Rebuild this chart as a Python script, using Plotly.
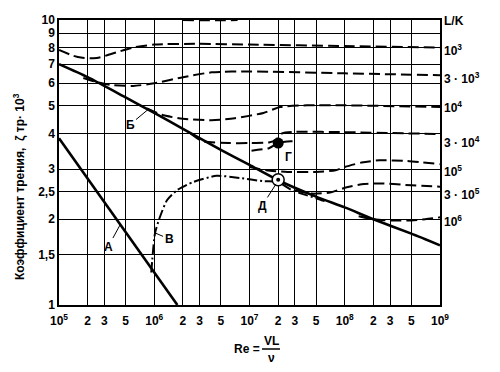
import numpy as np
import plotly.graph_objects as go

# ---------------- data ----------------
# A : laminar friction line
re_A = [1e5, 1.75e6]
cf_A = [3.85, 1.0]

# Б : smooth turbulent plate
re_B = [1e5, 2e5, 5e5, 1e6, 2e6, 5e6, 1e7, 2e7, 5e7, 1e8, 2e8, 5e8, 1e9]
cf_B = [7.0, 6.3, 5.35, 4.72, 4.15, 3.5, 3.1, 2.74, 2.4, 2.2, 2.0, 1.78, 1.62]

# В : transition curve
re_V = [9.3e5, 1.02e6, 1.15e6, 1.36e6, 1.74e6, 2.56e6, 4.5e6, 7.9e6, 1.38e7, 2e7, 2.66e7, 3.5e7, 5e7, 6.5e7]
cf_V = [1.3, 1.79, 2.04, 2.33, 2.53, 2.70, 2.84, 2.79, 2.72, 2.70, 2.55, 2.46, 2.37, 2.3]

# rough-plate curves, L/K
re_1e3 = [1e5, 1.4e5, 1.7e5, 2.5e5, 4e5, 6e5, 1e6, 3e6, 1e7, 1e8, 1e9]
cf_1e3 = [7.85, 7.5, 7.38, 7.35, 7.7, 8.0, 8.2, 8.25, 8.2, 8.1, 8.0]

re_3e3 = [1.8e5, 2.5e5, 3.5e5, 6e5, 1e6, 2e6, 4e6, 1e7, 1e8, 1e9]
cf_3e3 = [6.26, 6.05, 5.92, 5.87, 6.0, 6.3, 6.55, 6.6, 6.5, 6.4]

re_1e4 = [8.4e5, 1.2e6, 2e6, 4e6, 7e6, 1.4e7, 2.1e7, 4e7, 1e8, 1e9]
cf_1e4 = [4.9, 4.65, 4.5, 4.45, 4.52, 4.72, 4.95, 5.02, 5.02, 4.95]

re_3e4 = [2.4e6, 3.2e6, 6e6, 1e7, 1.6e7, 1.9e7, 2.2e7, 3e7, 1e8, 1e9]
cf_3e4 = [4.0, 3.76, 3.7, 3.7, 3.72, 3.8, 4.0, 4.05, 4.04, 3.98]

re_G = [1.05e7, 1.6e7, 2e7, 2.5e7, 3.2e7]
cf_G = [3.48, 3.55, 3.7, 3.75, 3.75]

re_1e5 = [1e7, 1.5e7, 2.5e7, 5e7, 8e7, 1e8, 1.5e8, 2.3e8, 4.5e8, 1e9]
cf_1e5 = [3.05, 2.97, 2.93, 2.93, 2.97, 3.05, 3.16, 3.22, 3.2, 3.12]

re_3e5 = [3e7, 4.5e7, 7e7, 1.05e8, 1.6e8, 2.5e8, 5e8, 1e9]
cf_3e5 = [2.52, 2.46, 2.48, 2.59, 2.66, 2.67, 2.63, 2.6]

re_1e6 = [1.4e8, 2e8, 3e8, 5e8, 7e8, 1e9]
cf_1e6 = [2.05, 2.0, 1.98, 1.98, 2.0, 2.03]

re_top = [2e6, 3e6, 5e6, 7.5e6]
cf_top = [10.0, 9.98, 9.97, 10.0]

# points Г and Д
re_pt = [2e7]
cf_G_pt = [3.7]
cf_D_pt = [2.75]

# tick labels
x_tickvals = []
x_ticktext = []
for e in range(5, 10):
    for m, t in ((1, f"10<sup>{e}</sup>"), (2, "2"), (3, "3"), (5, "5")):
        if e == 9 and m > 1:
            continue
        x_tickvals.append(m * 10 ** e)
        x_ticktext.append(t)
y_tickvals = [1, 1.5, 2, 2.5, 3, 4, 5, 6, 7, 8, 9, 10]
y_ticktext = ["1", "1,5", "2", "2,5", "3", "4", "5", "6", "7", "8", "9", "10"]

right_labels = ["L/K", "10<sup>3</sup>", "3 · 10<sup>3</sup>", "10<sup>4</sup>", "3 · 10<sup>4</sup>",
                "10<sup>5</sup>", "3 · 10<sup>5</sup>", "10<sup>6</sup>"]
right_label_y = [9.95, 7.85, 6.25, 4.95, 3.73, 2.95, 2.45, 1.97]

# ---------------- figure ----------------
FONT = "Liberation Sans, Arial, sans-serif"
fig = go.Figure()
dash_rough = "11px,5px"

def add_line(x, y, width, dash="solid"):
    fig.add_trace(go.Scatter(x=x, y=y, mode="lines", line=dict(color="black", width=width, dash=dash,
                                                               shape="spline", smoothing=0.6),
                             showlegend=False, hoverinfo="skip"))

add_line(re_A, cf_A, 2.6)
add_line(re_B, cf_B, 2.6)
add_line(re_V, cf_V, 2.0, "10px,3px,2px,3px")
for xs, ys in ((re_1e3, cf_1e3), (re_3e3, cf_3e3), (re_1e4, cf_1e4), (re_3e4, cf_3e4),
               (re_G, cf_G), (re_1e5, cf_1e5), (re_3e5, cf_3e5), (re_1e6, cf_1e6), (re_top, cf_top)):
    add_line(xs, ys, 2.0, dash_rough)

fig.add_trace(go.Scatter(x=re_pt, y=cf_G_pt, mode="markers",
                         marker=dict(color="black", size=11), showlegend=False, hoverinfo="skip"))
fig.add_trace(go.Scatter(x=re_pt, y=cf_D_pt, mode="markers",
                         marker=dict(color="white", size=12, line=dict(color="black", width=1.5)),
                         showlegend=False, hoverinfo="skip"))
fig.add_trace(go.Scatter(x=re_pt, y=cf_D_pt, mode="markers",
                         marker=dict(color="black", size=4), showlegend=False, hoverinfo="skip"))

axis_common = dict(type="log", showgrid=True, gridcolor="black", gridwidth=1.2,
                   showline=True, linecolor="black", linewidth=1.5, mirror=True,
                   ticks="", zeroline=False,
                   tickfont=dict(family=FONT, size=12, color="black", weight="bold"))
fig.update_xaxes(range=[5, 9], tickvals=x_tickvals, ticktext=x_ticktext, ticklabelstandoff=4, **axis_common)
fig.update_yaxes(range=[0, 1], tickvals=y_tickvals, ticktext=y_ticktext, **axis_common)

ann_font = dict(family=FONT, size=12, color="black", weight="bold")
annotations = []
for txt, yv in zip(right_labels, right_label_y):
    annotations.append(dict(text=txt, xref="paper", x=1.0, xshift=2, xanchor="left",
                            yref="y", y=np.log10(yv), yanchor="middle", showarrow=False, font=ann_font))

def leader(label, re, cf, ax, ay):
    annotations.append(dict(text=label, x=np.log10(re), y=np.log10(cf), xref="x", yref="y",
                            showarrow=True, arrowhead=0, arrowwidth=1, arrowcolor="black",
                            ax=ax, ay=ay, font=ann_font, standoff=0))

leader("А", 4.4e5, 3.85 * (4.4) ** -0.471, -12, 22)
leader("Б", 8.6e5, 4.85, -18, 15)
leader("В", 1.02e6, 1.79, 14, 6)
leader("Д", 1.9e7, 2.66, -14, 22)
annotations.append(dict(text="Г", x=np.log10(2.55e7), y=np.log10(3.3), xref="x", yref="y",
                        showarrow=False, font=ann_font))

def paper_text(txt, px, py, size=12, angle=0):
    annotations.append(dict(text=txt, textangle=angle,
                            xref="paper", x=(px - 59) / 381, xanchor="center",
                            yref="paper", y=(305 - py) / 285, yanchor="middle",
                            showarrow=False,
                            font=dict(family=FONT, size=size, color="black", weight="bold")))

# axis titles
paper_text("Коэффициент трения,  ζ тр· 10<sup>3</sup>", 19, 187, size=12, angle=-90)
paper_text("Re =", 247, 349)
paper_text("VL", 271, 341)
paper_text("ν", 271, 358)

fig.update_layout(
    width=500, height=372,
    margin=dict(l=59, r=60, t=20, b=67),
    paper_bgcolor="white", plot_bgcolor="white",
    annotations=annotations,
    shapes=[dict(type="line", xref="paper", yref="paper",
                 x0=(262 - 59) / 381, x1=(280 - 59) / 381,
                 y0=(305 - 349) / 285, y1=(305 - 349) / 285,
                 line=dict(color="black", width=1.5))],
    showlegend=False,
)

fig.write_html("out.html")
